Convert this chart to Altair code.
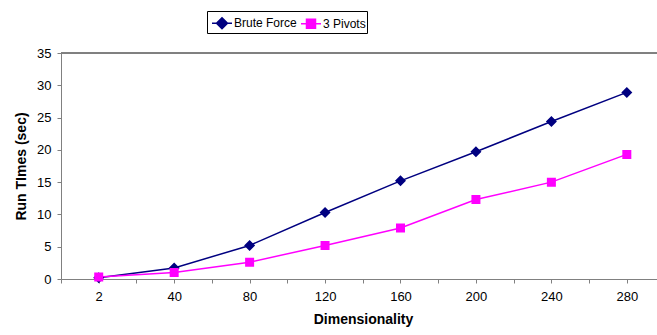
import json
import altair as alt
import pandas as pd

dims = ["2", "40", "80", "120", "160", "200", "240", "280"]
brute = [0.2, 1.7, 5.2, 10.3, 15.2, 19.7, 24.4, 28.9]
pivots = [0.3, 1.0, 2.6, 5.2, 7.9, 12.3, 15.0, 19.3]
series_names = ["Brute Force", "3 Pivots"]
series_colors = ["#000080", "#FF00FF"]
y_ticks = [0, 5, 10, 15, 20, 25, 30, 35]

rows = []
for name, vals in zip(series_names, [brute, pivots]):
    for i, (d, v) in enumerate(zip(dims, vals)):
        rows.append({"idx": i, "dim": d, "series": name, "value": v})
df = pd.DataFrame(rows)

FONT = "Liberation Sans"
x_vals = [i / 2 for i in range(-1, 2 * len(dims) - 1)]
label_expr = "datum.value % 1 == 0 ? " + json.dumps(dims) + "[datum.value] : ''"

x_scale = alt.Scale(domain=[-0.5, len(dims) - 0.6], nice=False, zero=False)
x_axis = alt.Axis(
    values=x_vals, labelExpr=label_expr, title="Dimensionality",
    grid=False, domainColor="#808080", tickColor="#808080", tickSize=4,
    labelFont=FONT, labelFontSize=13, labelColor="black", labelPadding=7,
    labelFlush=False, labelOverlap=False,
    titleFont=FONT, titleFontSize=14, titleFontWeight="bold", titleColor="black",
    titlePadding=9, titleX=302,
)
y_scale = alt.Scale(domain=[0, 35], nice=False)
y_axis = alt.Axis(
    values=y_ticks, title="Run TImes (sec)", grid=False,
    domainColor="#808080", tickColor="#808080", tickSize=4,
    labelFont=FONT, labelFontSize=13, labelColor="black", labelPadding=6,
    labelFlush=False, labelOverlap=False,
    titleFont=FONT, titleFontSize=14, titleFontWeight="bold", titleColor="black",
    titlePadding=8,
)
x_enc = alt.X("idx:Q", scale=x_scale, axis=x_axis)
y_enc = alt.Y("value:Q", scale=y_scale, axis=y_axis)

shape_paths = [
    "M-1,0H1M0,-0.55L0.55,0L0,0.55L-0.55,0Z",
    "M-1,0H1M-0.45,-0.45H0.45V0.45H-0.45Z",
]

base = alt.Chart(df)

lines = base.mark_line(strokeWidth=1.5).encode(
    x=x_enc, y=y_enc,
    color=alt.Color("series:N", scale=alt.Scale(domain=series_names, range=series_colors), legend=None),
    detail="series:N",
)

leg = alt.Legend(
    title=None, orient="none", legendX=146, legendY=-42, direction="horizontal",
    padding=1, strokeColor="black", fillColor="white", symbolSize=400,
    symbolStrokeWidth=1.5, symbolOffset=3, labelOffset=1, columnPadding=-2,
    labelFont=FONT, labelFontSize=12, labelColor="black",
)

points = base.mark_point(filled=True, size=400, strokeWidth=0, opacity=1).encode(
    x=x_enc, y=y_enc,
    shape=alt.Shape("series:N", scale=alt.Scale(domain=series_names, range=shape_paths), legend=leg),
    fill=alt.Fill("series:N", scale=alt.Scale(domain=series_names, range=series_colors), legend=leg),
    stroke=alt.Stroke("series:N", scale=alt.Scale(domain=series_names, range=series_colors), legend=leg),
)

top = base.mark_rule(color="#808080", strokeWidth=1).encode(
    y=alt.Y(datum=y_ticks[-1], scale=y_scale, axis=y_axis, type="quantitative")
)

chart = alt.layer(lines, points, top).properties(
    width=596, height=226,
    autosize=alt.AutoSizeParams(type="none"),
    padding={"left": 61, "top": 53, "right": 0, "bottom": 56},
).configure_view(stroke=None).resolve_scale(color="independent")

chart.save("out.html", embed_options={"renderer": "svg", "actions": False})
